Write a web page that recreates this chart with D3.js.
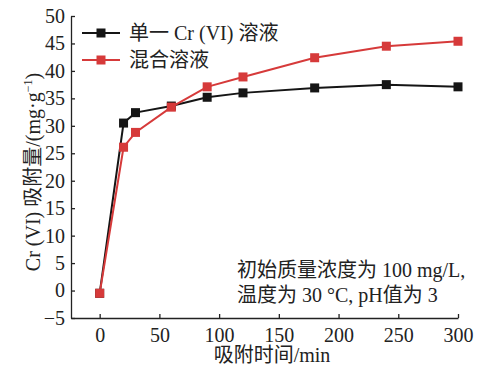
<!doctype html>
<html lang="en">
<head>
<meta charset="utf-8">
<script src="https://cdnjs.cloudflare.com/ajax/libs/d3/7.8.5/d3.min.js"></script>
<style>
  body { margin: 0; background: #fff; }
  svg text { font-family: "Liberation Serif", "Noto Sans CJK SC", serif; fill: #222; }
  .axis path, .axis line { stroke: #222; stroke-width: 1.3; }
  .axis text { font-size: 20px; }
</style>
</head>
<body>
<script>
// adsorption time (min)
const times = [0, 20, 30, 60, 90, 120, 180, 240, 300];
// 单一 Cr (VI) 溶液
const singleCr = [-0.5, 30.5, 32.4, 33.6, 35.2, 36.0, 36.9, 37.5, 37.1];
// 混合溶液
const mixed = [-0.5, 26.1, 28.8, 33.4, 37.1, 38.9, 42.4, 44.5, 45.4];
const xTicks = [0, 50, 100, 150, 200, 250, 300];
const yTicks = [-5, 0, 5, 10, 15, 20, 25, 30, 35, 40, 45, 50];

const w = 492, h = 373;
const plotLeft = 71, plotRight = 458, plotTop = 16, plotBottom = 318;

const svg = d3.select("body").append("svg")
  .attr("width", w)
  .attr("height", h);

const x = d3.scaleLinear().domain([-24, 300]).range([plotLeft, plotRight]);
const y = d3.scaleLinear().domain([-5, 50]).range([plotBottom, plotTop]);

// axes, ticks point inward
svg.append("g")
  .attr("class", "axis")
  .attr("transform", "translate(0," + plotBottom + ")")
  .call(d3.axisBottom(x).tickValues(xTicks).tickSize(-4).tickPadding(9).tickSizeOuter(0))
  .call(g => g.selectAll("text").attr("dy", "0.75em"));

svg.append("g")
  .attr("class", "axis")
  .attr("transform", "translate(" + plotLeft + ",0)")
  .call(d3.axisLeft(y).tickValues(yTicks).tickSize(-4).tickPadding(6).tickSizeOuter(0)
    .tickFormat(d => d < 0 ? "\u2212" + Math.abs(d) : d));

const series = [
  { name: "单一 Cr (VI) 溶液", values: singleCr, color: "#151515" },
  { name: "混合溶液", values: mixed, color: "#d63a3a" }
];

const line = d3.line()
  .x(d => x(d[0]))
  .y(d => y(d[1]));

series.forEach(s => {
  const pts = times.map((t, i) => [t, s.values[i]]);
  svg.append("path")
    .datum(pts)
    .attr("fill", "none")
    .attr("stroke", s.color)
    .attr("stroke-width", 2)
    .attr("d", line);
  svg.selectAll(null)
    .data(pts)
    .enter()
    .append("rect")
    .attr("x", d => x(d[0]) - 4.5)
    .attr("y", d => y(d[1]) - 4.5)
    .attr("width", 9)
    .attr("height", 9)
    .attr("fill", s.color);
});

// legend
const legend = svg.append("g");
series.forEach((s, i) => {
  const ly = 33 + i * 27;
  legend.append("line")
    .attr("x1", 82).attr("x2", 120)
    .attr("y1", ly).attr("y2", ly)
    .attr("stroke", s.color).attr("stroke-width", 2);
  legend.append("rect")
    .attr("x", 96.5).attr("y", ly - 4.5)
    .attr("width", 9).attr("height", 9)
    .attr("fill", s.color);
  legend.append("text")
    .attr("x", 129).attr("y", ly + 7)
    .attr("font-size", 20)
    .text(s.name);
});

// annotation
svg.append("text")
  .attr("x", 237).attr("y", 277)
  .attr("font-size", 20)
  .text("初始质量浓度为 100 mg/L,");
svg.append("text")
  .attr("x", 237).attr("y", 302)
  .attr("font-size", 20)
  .text("温度为 30 °C, pH值为 3");

// axis labels
svg.append("text")
  .attr("x", 272).attr("y", 362)
  .attr("text-anchor", "middle")
  .attr("font-size", 20)
  .text("吸附时间/min");

svg.append("text")
  .attr("transform", "translate(40," + 172 + ") rotate(-90)")
  .attr("text-anchor", "middle")
  .attr("font-size", 20)
  .html("Cr (VI) 吸附量/(mg·g<tspan dy='-8' font-size='12'>−1</tspan><tspan dy='8'>)</tspan>");
</script>
</body>
</html>
